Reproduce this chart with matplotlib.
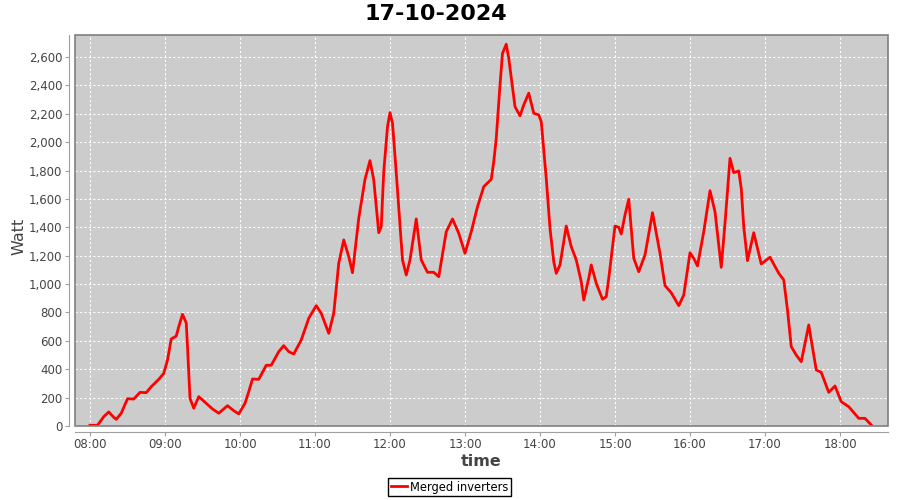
import matplotlib
matplotlib.use("Agg")
import matplotlib.pyplot as plt
import matplotlib.dates as mdates
from matplotlib.patches import Rectangle
import pandas as pd

day = "2024-10-17"

times = ["08:00", "08:06", "08:11", "08:15", "08:19", "08:21", "08:25", "08:30", "08:35", "08:40",
         "08:45", "08:49", "08:55", "08:59", "09:02", "09:05", "09:09", "09:11", "09:14", "09:17",
         "09:18", "09:20", "09:23", "09:27", "09:33", "09:38", "09:43", "09:50", "09:55", "09:59",
         "10:04", "10:07", "10:10", "10:15", "10:21", "10:25", "10:31", "10:35", "10:39", "10:43",
         "10:49", "10:55", "11:01", "11:05", "11:11", "11:15", "11:19", "11:23", "11:27", "11:30",
         "11:35", "11:40", "11:44", "11:47", "11:51", "11:53", "11:55", "11:58", "12:00", "12:02",
         "12:05", "12:10", "12:13", "12:16", "12:21", "12:25", "12:30", "12:35", "12:39", "12:45",
         "12:50", "12:55", "13:00", "13:05", "13:10", "13:15", "13:21", "13:23", "13:25", "13:28",
         "13:30", "13:33", "13:35", "13:40", "13:44", "13:47", "13:51", "13:55", "13:59", "14:01",
         "14:05", "14:08", "14:11", "14:13", "14:16", "14:21", "14:25", "14:29", "14:33", "14:35",
         "14:39", "14:41", "14:45", "14:50", "14:53", "14:55", "15:00", "15:03", "15:05", "15:08",
         "15:11", "15:15", "15:19", "15:24", "15:30", "15:36", "15:40", "15:45", "15:51", "15:55",
         "16:00", "16:03", "16:06", "16:11", "16:16", "16:20", "16:25", "16:28", "16:32", "16:35",
         "16:39", "16:41", "16:43", "16:46", "16:51", "16:57", "17:04", "17:11", "17:15", "17:18",
         "17:21", "17:25", "17:29", "17:35", "17:41", "17:45", "17:51", "17:56", "18:01", "18:07",
         "18:15", "18:20", "18:25"]

watts = [5, 5, 66, 99, 61, 47, 90, 192, 190, 237,
         235, 277, 329, 371, 465, 613, 634, 700, 787, 726,
         559, 195, 125, 207, 160, 120, 90, 143, 108, 85,
         160, 242, 331, 329, 428, 428, 524, 566, 524, 507,
         606, 759, 848, 794, 653, 794, 1147, 1311, 1193, 1080,
         1464, 1738, 1870, 1734, 1362, 1404, 1792, 2109, 2208, 2133,
         1785, 1170, 1064, 1170, 1459, 1170, 1083, 1083, 1052, 1369,
         1459, 1358, 1217, 1369, 1545, 1686, 1738, 1862, 2027, 2403,
         2626, 2690, 2591, 2250, 2185, 2262, 2345, 2204, 2192, 2145,
         1745, 1393, 1158, 1076, 1135, 1409, 1264, 1170, 1017, 888,
         1041, 1135, 1006, 893, 911, 1041, 1409, 1400, 1353, 1487,
         1598, 1182, 1087, 1205, 1503, 1217, 989, 939, 848, 923,
         1221, 1182, 1128, 1369, 1658, 1510, 1118, 1428, 1886, 1785,
         1797, 1675, 1404, 1165, 1362, 1142, 1189, 1076, 1029, 817,
         559, 500, 453, 712, 395, 378, 237, 282, 171, 136,
         54, 54, 7]

x = pd.to_datetime([day + " " + t for t in times])

fig = plt.figure(figsize=(9, 5), dpi=100)
ax = fig.add_axes([75 / 900, 74 / 500, 813 / 900, 391 / 500])
ax.set_facecolor("#cccccc")

line, = ax.plot(x, watts, color="#ff0000", linewidth=2, label="Merged inverters",
                solid_joinstyle="round")

ax.set_xlim(pd.Timestamp(day + " 07:48"), pd.Timestamp(day + " 18:38:24"))
ax.set_ylim(0, 2755)
ax.set_yticks(range(0, 2601, 200))
ax.yaxis.set_major_formatter(plt.FuncFormatter(lambda v, p: format(int(v), ",")))
ax.xaxis.set_major_locator(mdates.HourLocator())
ax.xaxis.set_major_formatter(mdates.DateFormatter("%H:%M"))

ax.grid(True, color="white", linestyle=(0, (2, 2)), linewidth=0.8)
ax.set_axisbelow(True)

for s in ["top", "right"]:
    ax.spines[s].set_visible(False)
for s in ["left", "bottom"]:
    ax.spines[s].set_position(("outward", 4))
    ax.spines[s].set_color("#a0a0a0")
ax.add_patch(Rectangle((0, 0), 1, 1, transform=ax.transAxes, fill=False,
                       edgecolor="#808080", linewidth=1.2, clip_on=False, zorder=5))
ax.tick_params(direction="out", length=3, pad=2, color="#a0a0a0", labelcolor="#444444",
               labelsize=8.5)

fig.text(436 / 900, 1 - 14 / 500, "17-10-2024", fontsize=16, fontweight="bold",
         ha="center", va="center")
fig.text(19 / 900, 1 - 236 / 500, "Watt", fontsize=11.5, color="#444444",
         rotation=90, ha="center", va="center")
fig.text(481 / 900, 1 - 461 / 500, "time", fontsize=11.5, fontweight="bold", color="#444444",
         ha="center", va="center")

fig.legend(handles=[line], loc="center", bbox_to_anchor=(0.4995, 0.026), fontsize=8.3,
           frameon=True, fancybox=False, edgecolor="black", framealpha=1,
           handlelength=1.4, handletextpad=0.3, borderpad=0.25, borderaxespad=0)

fig.savefig("out.png", dpi=100)
